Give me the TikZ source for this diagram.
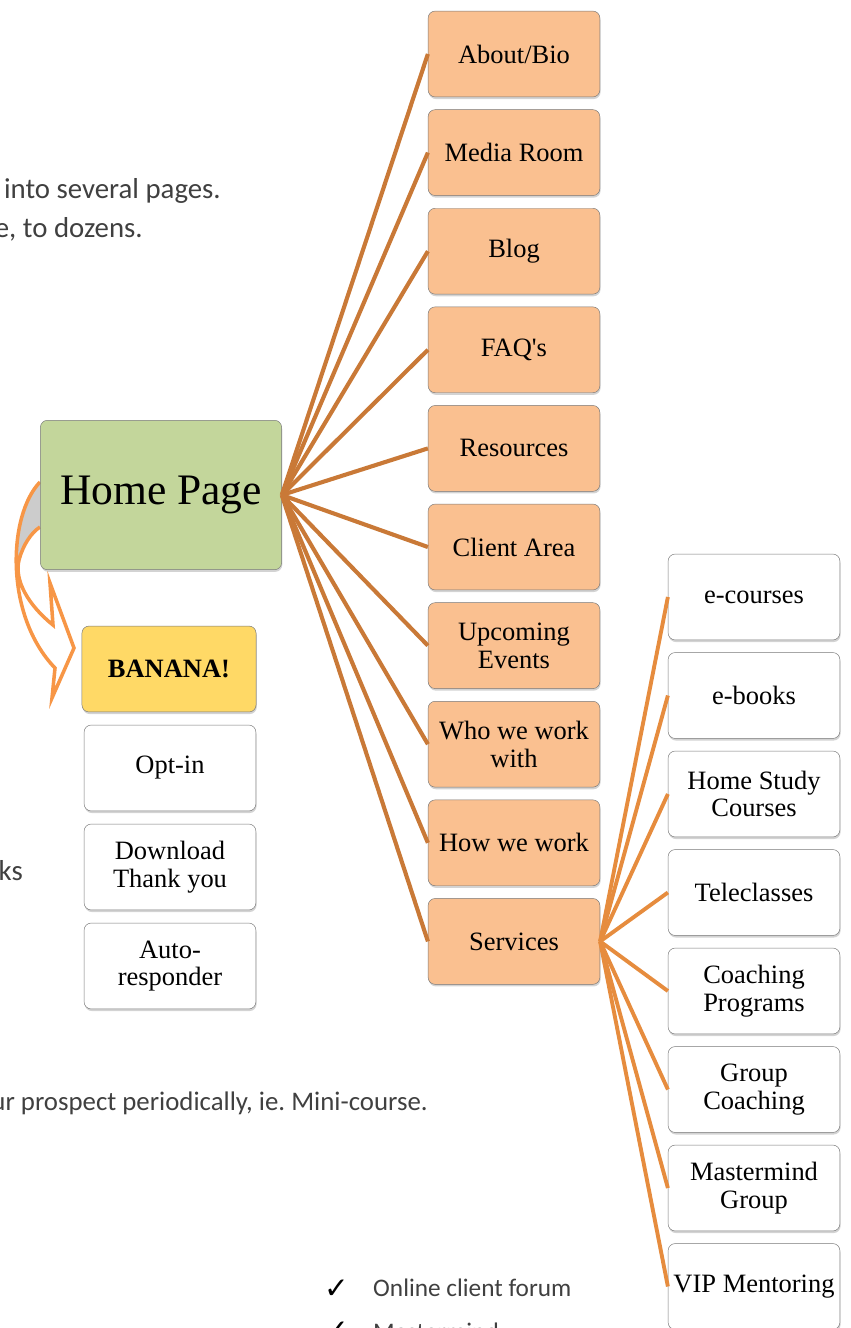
\documentclass[tikz,border=0pt]{standalone}
\usepackage{fontspec}
\setmainfont{Liberation Serif}
\newfontfamily\notefont{Carlito}
\newfontfamily\symfont{DejaVu Sans}
\usetikzlibrary{shadows}
\frenchspacing

\definecolor{pagefill}{RGB}{250,192,144}
\definecolor{homefill}{RGB}{195,214,155}
\definecolor{bananafill}{RGB}{255,217,102}
\definecolor{boxline}{RGB}{120,120,120}
\definecolor{linkbrown}{RGB}{201,121,55}
\definecolor{linkorange}{RGB}{230,140,62}
\definecolor{arroworange}{RGB}{247,150,70}
\definecolor{notegray}{RGB}{64,64,64}

\tikzset{
  box/.style={draw=boxline, rounded corners=6pt, minimum width=146pt, minimum height=73pt,
    align=center, inner sep=1pt, font=\fontsize{22.5}{23.5}\selectfont,
    drop shadow={shadow xshift=0.6pt, shadow yshift=-1.8pt, opacity=0.35}},
  pagebox/.style={box, fill=pagefill},
  prodbox/.style={box, fill=white},
  link/.style={draw=linkbrown, line width=3.5pt},
  sublink/.style={draw=linkorange, line width=3.3pt},
  note/.style={font=\notefont\fontsize{24.5}{28}\selectfont, text=notegray, inner sep=0pt},
  tick/.style={font=\symfont\fontsize{25}{26}\selectfont, text=black, inner sep=0pt}
}

\begin{document}
\begin{tikzpicture}[x=0.85pt, y=-0.85pt]
  \useasboundingbox (0,0) rectangle (850,1328);
  \clip (0,0) rectangle (850,1328);

  % Testo
  \node[note, anchor=base east] (t1) at (221,198) {into several pages.};
  \node[note, anchor=base east] (t2) at (143,237) {e, to dozens.};
  \node[note, anchor=base east] (t3) at (23,880) {ks};
  \node[note, font=\notefont\fontsize{22.8}{26}\selectfont, anchor=base east] (t4) at (428,1110) {ur prospect periodically, ie. Mini-course.};
  \node[tick, anchor=base west] (c1) at (324,1298) {✓};
  \node[note, font=\notefont\fontsize{21.5}{24}\selectfont, anchor=base west] (b1) at (373,1296) {Online client forum};
  \node[tick, anchor=base west] (c2) at (324,1340) {✓};
  \node[note, font=\notefont\fontsize{21.5}{24}\selectfont, anchor=base west] (b2) at (373,1340) {Mastermind};

  % Freccia
  \fill[gray!40] (40,482) .. controls (24,497) and (15,525) .. (17,560)
    .. controls (22,545) and (30,533) .. (40,527) -- cycle;
  \draw[arroworange, line width=3pt, line join=miter]
    (40,482) .. controls (8,515) and (4,615) .. (55,668) -- (52,698) -- (74,648) -- (50,583) -- (53,625)
    .. controls (28,605) and (14,580) .. (19,560) .. controls (23,545) and (31,533) .. (40,527);

  % Nodi
  \node[box, fill=homefill, minimum width=205pt, minimum height=127pt,
    font=\fontsize{37}{40}\selectfont] (home) at (161,495) {Home Page};

  \node[box, fill=bananafill, minimum width=148pt, font=\fontsize{22.5}{23.5}\selectfont\bfseries] (banana) at (169,669) {BANANA!};
  \node[prodbox] (optin) at (170,768) {Opt-in};
  \node[prodbox] (download) at (170,867) {Download\\Thank you};
  \node[prodbox] (autoresp) at (170,966) {Auto-\\responder};

  \node[pagebox] (about) at (514,54) {About/Bio};
  \node[pagebox] (media) at (514,152.6) {Media Room};
  \node[pagebox] (blog) at (514,251.2) {Blog};
  \node[pagebox] (faq) at (514,349.8) {FAQ\textquotesingle s};
  \node[pagebox] (resources) at (514,448.4) {Resources};
  \node[pagebox] (client) at (514,547) {Client Area};
  \node[pagebox] (events) at (514,645.6) {Upcoming\\Events};
  \node[pagebox] (whowith) at (514,744.2) {Who we work\\with};
  \node[pagebox] (howwork) at (514,842.8) {How we work};
  \node[pagebox] (services) at (514,941.4) {Services};

  \node[prodbox] (ecourses) at (754,597) {e-courses};
  \node[prodbox] (ebooks) at (754,695.5) {e-books};
  \node[prodbox] (homestudy) at (754,794) {Home Study\\Courses};
  \node[prodbox] (teleclasses) at (754,892.5) {Teleclasses};
  \node[prodbox] (coaching) at (754,991) {Coaching\\Programs};
  \node[prodbox] (group) at (754,1089.5) {Group\\Coaching};
  \node[prodbox] (mastermind) at (754,1188) {Mastermind\\Group};
  \node[prodbox] (vip) at (754,1286.5) {VIP Mentoring};

  % Collegamenti
  \draw[link] (home.east) -- (about.west);
  \draw[link] (home.east) -- (media.west);
  \draw[link] (home.east) -- (blog.west);
  \draw[link] (home.east) -- (faq.west);
  \draw[link] (home.east) -- (resources.west);
  \draw[link] (home.east) -- (client.west);
  \draw[link] (home.east) -- (events.west);
  \draw[link] (home.east) -- (whowith.west);
  \draw[link] (home.east) -- (howwork.west);
  \draw[link] (home.east) -- (services.west);

  \draw[sublink] (services.east) -- (ecourses.west);
  \draw[sublink] (services.east) -- (ebooks.west);
  \draw[sublink] (services.east) -- (homestudy.west);
  \draw[sublink] (services.east) -- (teleclasses.west);
  \draw[sublink] (services.east) -- (coaching.west);
  \draw[sublink] (services.east) -- (group.west);
  \draw[sublink] (services.east) -- (mastermind.west);
  \draw[sublink] (services.east) -- (vip.west);
\end{tikzpicture}
\end{document}
